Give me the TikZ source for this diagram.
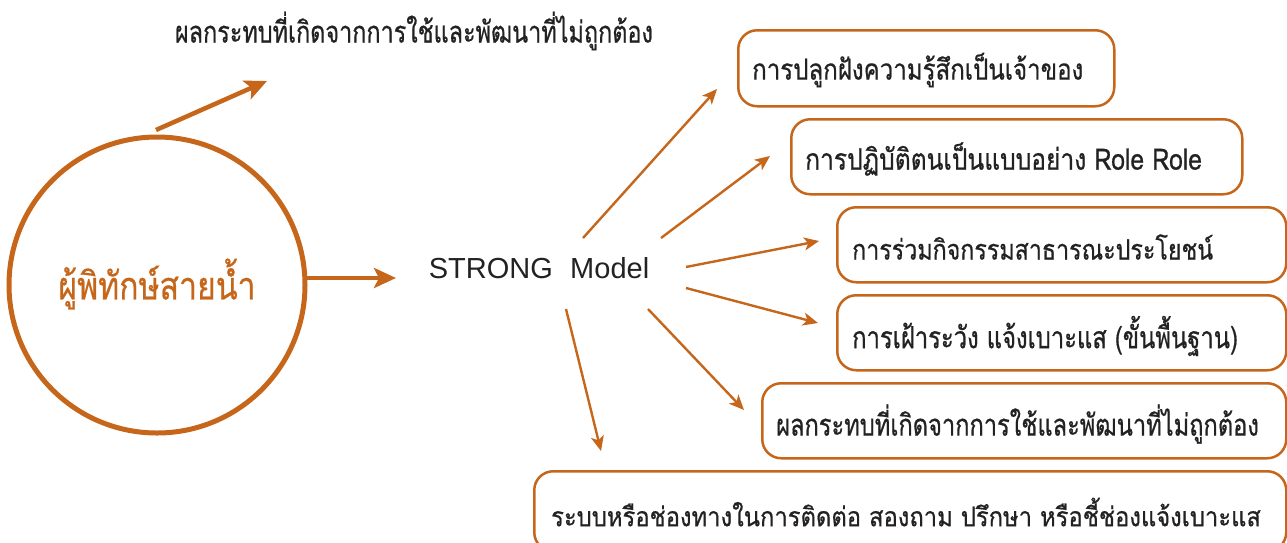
\documentclass[tikz,border=0pt]{standalone}
\usepackage{fontspec}
\usetikzlibrary{arrows.meta}
\newfontfamily\thaifont[Script=Thai,FakeBold=0.6]{Loma}
\newfontfamily\thaibox[Script=Thai,FakeStretch=0.83,FakeBold=0.6]{Loma}
\newfontfamily\thaicond[Script=Thai,FakeStretch=0.78,FakeBold=0.6]{Loma}
\newfontfamily\thaimid[Script=Thai,FakeStretch=0.88,FakeBold=0.6]{Loma}
\setsansfont{Liberation Sans}
\definecolor{ora}{HTML}{C5661B}
\definecolor{ink}{HTML}{222222}
\tikzset{
  box/.style={draw=ora, line width=2.5pt, rounded corners=19pt, anchor=north west, inner sep=0pt},
  lbl/.style={anchor=west, text=ink, inner sep=0pt},
  thin arrow/.style={draw=ora, line width=2.4pt, -{Stealth[length=15pt,width=13pt,inset=4pt]}},
  thick arrow/.style={draw=ora, line width=4.5pt, -{Stealth[length=22pt,width=20pt,inset=5pt]}},
}
\begin{document}
\begin{tikzpicture}[x=1pt,y=-1pt]
\useasboundingbox (0,0) rectangle (1287,542);
% title
\node[text=ink, inner sep=0pt] (title) at (414,31) {\thaicond\fontsize{30}{34}\selectfont ผลกระทบที่เกิดจากการใช้และพัฒนาที่ไม่ถูกต้อง};
% circle
\node[circle, draw=ora, line width=5pt, minimum size=296pt, inner sep=0pt] (c) at (157,285) {};
\node[text=ora, inner sep=0pt] (ctext) at (157,284) {\thaibox\fontsize{38.5}{42}\selectfont ผู้พิทักษ์สายน้ำ};
% STRONG
\node[text=ink, inner sep=0pt] (strong) at (539,268) {\sffamily\fontsize{29}{34}\selectfont STRONG\hspace{0.6em}Model};
% boxes
\node[box, minimum width=376pt, minimum height=76pt] (b1) at (737,29) {};
\node[box, minimum width=451pt, minimum height=75pt] (b2) at (790,118) {};
\node[box, minimum width=449pt, minimum height=75pt] (b3) at (836,206) {};
\node[box, minimum width=449pt, minimum height=75pt] (b4) at (836,294) {};
\node[box, minimum width=524pt, minimum height=75pt] (b5) at (761,382) {};
\node[box, minimum width=752pt, minimum height=80pt] (b6) at (533,470) {};
\node[lbl] (t1) at (752,70) {\thaibox\fontsize{29}{32}\selectfont การปลูกฝังความรู้สึกเป็นเจ้าของ};
\node[lbl] (t2) at (805,159) {\thaibox\fontsize{29.6}{32}\selectfont การปฏิบัติตนเป็นแบบอย่าง Role Role};
\node[lbl] (t3) at (852,247) {\thaibox\fontsize{28}{32}\selectfont การร่วมกิจกรรมสาธารณะประโยชน์};
\node[lbl] (t4) at (852,336) {\thaicond\fontsize{30.5}{34}\selectfont การเฝ้าระวัง แจ้งเบาะแส (ขั้นพื้นฐาน)};
\node[lbl] (t5) at (776,424) {\thaicond\fontsize{30.3}{34}\selectfont ผลกระทบที่เกิดจากการใช้และพัฒนาที่ไม่ถูกต้อง};
\node[lbl] (t6) at (551,512) {\thaimid\fontsize{27}{30}\selectfont ระบบหรือช่องทางในการติดต่อ สองถาม ปรึกษา หรือชี้ช่องแจ้งเบาะแส};
% arrow coordinates
\coordinate (s0) at (156,130); \coordinate (e0) at (267,81);
\coordinate (cr) at (305,278); \coordinate (sl) at (396,278);
\coordinate (s1) at (583,238); \coordinate (e1) at (717,89);
\coordinate (s2) at (661,238); \coordinate (e2) at (770,156);
\coordinate (s3) at (686,267); \coordinate (e3) at (819,241);
\coordinate (s4) at (686,288); \coordinate (e4) at (818,323);
\coordinate (s5) at (648,309); \coordinate (e5) at (744,410);
\coordinate (s6) at (566,309); \coordinate (e6) at (601,451);
\draw[thick arrow] (s0) -- (e0);
\draw[thick arrow] (cr) -- (sl);
\draw[thin arrow] (s1) -- (e1);
\draw[thin arrow] (s2) -- (e2);
\draw[thin arrow] (s3) -- (e3);
\draw[thin arrow] (s4) -- (e4);
\draw[thin arrow] (s5) -- (e5);
\draw[thin arrow] (s6) -- (e6);
\end{tikzpicture}
\end{document}
